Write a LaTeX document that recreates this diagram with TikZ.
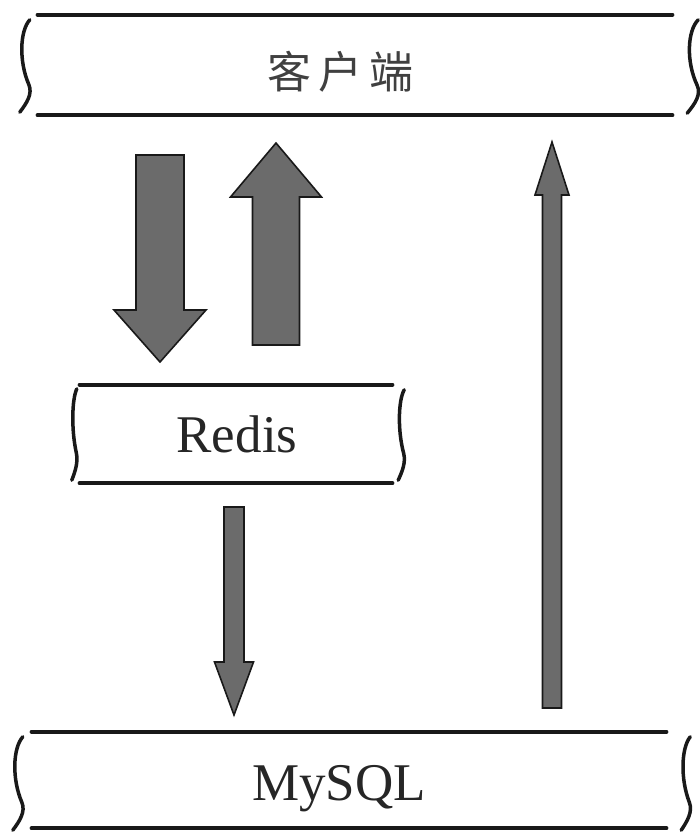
\documentclass[tikz,border=0pt]{standalone}
\usepackage{fontspec}
\setmainfont{Liberation Serif}
\newfontfamily\cjk[LetterSpace=16]{Noto Sans CJK SC}
\usetikzlibrary{calc}

\tikzset{
  boxline/.style={line width=4.5pt, line cap=round, black!90},
  sideline/.style={line width=3.5pt, line cap=round, black!90},
  frame/.style={inner sep=0pt, minimum width=#1},
  fatbody/.style={fill=black!58, draw=black!90, line width=1.6pt, line join=miter},
  tag/.style={text=black!85, inner sep=0pt, font=\fontsize{53}{60}\selectfont}
}

% wavy side stroke of a sketched box: top point, bottom point, sway
\newcommand{\sidestroke}[3]{%
  \coordinate (ss-a) at #1;
  \coordinate (ss-b) at #2;
  \draw[sideline] (ss-a)
    .. controls ($(ss-a)!0.12!(ss-b)+(-#3,0)$) and ($(ss-a)!0.45!(ss-b)+(-1.1*#3,0)$)
    .. ($(ss-a)!0.70!(ss-b)+(-0.1*#3,0)$)
    .. controls ($(ss-a)!0.80!(ss-b)+(0.3*#3,0)$) and ($(ss-a)!0.90!(ss-b)+(-0.3*#3,0)$)
    .. ($(ss-b)+(-#3,0)$);}

% block arrow: tail, tip, half shaft, half head, head length
\newcommand{\fatarrow}[5]{%
  \coordinate (fa-b) at ($(#2)!#5!(#1)$);
  \draw[fatbody] ($(#1)!#3!90:(#2)$) -- ($(fa-b)!#3!90:(#2)$) -- ($(fa-b)!#4!90:(#2)$)
    -- (#2) -- ($(fa-b)!#4!-90:(#2)$) -- ($(fa-b)!#3!-90:(#2)$) -- ($(#1)!#3!-90:(#2)$) -- cycle;}

\begin{document}
\begin{tikzpicture}[x=1pt,y=-1pt]
  \useasboundingbox (0,0) rectangle (700,832);

  % boxes
  \node[frame=634pt, minimum height=100pt] (clientbox) at (355,65) {};
  \node[frame=312pt, minimum height=98pt] (redisbox) at (236,434) {};
  \node[frame=634pt, minimum height=96pt] (mysqlbox) at (349,780) {};

  \foreach \b in {clientbox,redisbox,mysqlbox} {
    \draw[boxline] (\b.north west) -- (\b.north east);
    \draw[boxline] (\b.south west) -- (\b.south east);
  }

  \sidestroke{($(clientbox.north west)+(-8,5)$)}{($(clientbox.south west)+(-8,-3)$)}{10}
  \sidestroke{($(clientbox.north east)+(26,5)$)}{($(clientbox.south east)+(26,-2)$)}{11}
  \sidestroke{($(redisbox.north west)+(-3,4)$)}{($(redisbox.south west)+(-3,-3)$)}{5}
  \sidestroke{($(redisbox.north east)+(12,5)$)}{($(redisbox.south east)+(12,-3)$)}{6}
  \sidestroke{($(mysqlbox.north west)+(-9,5)$)}{($(mysqlbox.south west)+(-9,2)$)}{10}
  \sidestroke{($(mysqlbox.north east)+(24,5)$)}{($(mysqlbox.south east)+(24,2)$)}{9}

  % labels
  \node[tag, text=black!75, font=\cjk\fontsize{44}{50}\selectfont] (client) at (341,72) {客户端};
  \node[tag, anchor=base] (redis) at (237,452) {Redis};
  \node[tag, anchor=base] (mysql) at (339,800) {MySQL};

  % arrows
  \coordinate (q-tail) at (160,155);
  \coordinate (q-tip) at (160,362);
  \coordinate (r-tail) at (276,345);
  \coordinate (r-tip) at (276,143);
  \coordinate (m-tail) at (234,507);
  \coordinate (m-tip) at (234,715);
  \coordinate (b-tail) at (552,708);
  \coordinate (b-tip) at (552,142);

  \fatarrow{q-tail}{q-tip}{24pt}{46pt}{52pt}
  \fatarrow{r-tail}{r-tip}{23.5pt}{45.5pt}{54pt}
  \fatarrow{m-tail}{m-tip}{10pt}{19.5pt}{53pt}
  \fatarrow{b-tail}{b-tip}{9.5pt}{17pt}{53pt}
\end{tikzpicture}
\end{document}
